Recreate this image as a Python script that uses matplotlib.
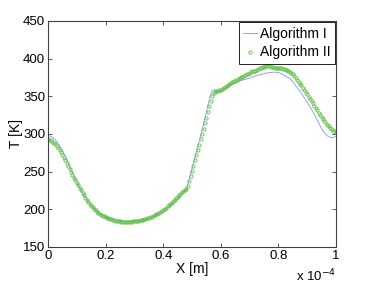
import matplotlib
matplotlib.use('Agg')
import matplotlib.pyplot as plt

plt.rcParams['font.family'] = ['Liberation Sans', 'DejaVu Sans']

# ── Data (x in units of 1e-4 m) ──────────────────────────────────────────────
x_alg1 = [i / 100 for i in range(101)]
T_alg1 = [
    298, 297, 294.5, 290, 284.5, 278, 270.5, 262, 253, 244.5,
    236.5, 229, 222, 216, 210.5, 205.5, 201, 197.5, 194.5, 192,
    190, 188.5, 187, 186, 185.3, 184.8, 184.5, 184.3, 184.3, 184.5,
    184.5, 184.5, 185, 186, 187, 188, 189.5, 191, 193, 195.5,
    198, 200.5, 203.5, 206.5, 210, 214, 218, 222, 226, 240,
    254, 269, 284, 298, 313, 329, 346, 358, 358.5, 356,
    357, 359, 361.5, 364, 366.5, 368, 369.5, 371, 372, 373,
    374, 375.5, 377, 378, 379, 380, 381, 381.5, 382, 382,
    381.5, 380, 378, 375.5, 374, 369.5, 364, 359, 354, 348,
    342, 336, 329.5, 322, 314.5, 307, 301.5, 297.5, 295.5, 295.5,
    296.5,
]

x_alg2 = [i / 200 for i in range(201)]
T_alg2 = [
    293, 292.5, 291.5, 290, 288.5, 286.5, 284, 281.5, 278.5, 275.5,
    272, 268.5, 265, 261, 257, 253, 249.5, 245.5, 242, 238.5,
    235, 232, 228.5, 225, 221.5, 218.5, 215.5, 212.5, 210, 207.5,
    205, 202.5, 200.5, 198.5, 197, 195.5, 194, 192.5, 191.5, 190.5,
    189.5, 188.5, 188, 187, 186.5, 186, 185.5, 185, 184.5, 184.3,
    184, 183.8, 183.6, 183.5, 183.5, 183.5, 183.5, 183.6, 183.8, 184,
    184.2, 184.4, 184.6, 185, 185.4, 185.8, 186.3, 186.8, 187.4, 188,
    188.7, 189.5, 190.3, 191.2, 192.2, 193.2, 194.3, 195.5, 196.8, 198.1,
    199.5, 200.9, 202.4, 204, 205.6, 207.3, 209, 210.8, 212.6, 214.5,
    216.5, 218.5, 220.5, 222.5, 224.3, 225.5, 226.5, 231, 237, 244,
    251, 258, 265, 272, 279, 286, 293, 300, 307, 314,
    321, 329, 337, 344, 350, 354, 356, 356.5, 357, 358,
    359, 360, 361, 362.5, 364, 365.5, 366.5, 368, 369, 370,
    371, 372, 373, 374, 375, 376, 377, 378, 379, 380,
    381, 382, 383, 383.5, 384, 385, 386, 387, 388, 389,
    389.5, 390, 390.3, 390.3, 390, 389.3, 388.5, 388, 387.5, 387.3,
    387.2, 387, 387, 386.7, 386.3, 385.5, 385, 384, 382.5, 381,
    379, 377, 374.5, 372, 369.5, 367, 364.5, 361.5, 358.5, 355.5,
    352.5, 349.5, 346.5, 343.5, 340.5, 337.5, 334.5, 331.5, 328.5, 325.5,
    322.5, 319.5, 317, 314.5, 312, 310, 308, 306, 304.5, 303.5,
    303,
]

x_ticks = [0, 0.2, 0.4, 0.6, 0.8, 1]
x_tick_labels = ['0', '0.2', '0.4', '0.6', '0.8', '1']
y_ticks = [150, 200, 250, 300, 350, 400, 450]

# ── Figure ───────────────────────────────────────────────────────────────────
fig = plt.figure(figsize=(3.71, 2.84), dpi=100)
ax = fig.add_axes([0.1294, 0.1303, 0.7763, 0.7958])

ax.plot(x_alg1, T_alg1, color='#8c8cff', linewidth=0.6, label='Algorithm I')
ax.plot(x_alg2, T_alg2, linestyle='none', marker='o', markersize=2.3,
        markerfacecolor='none', markeredgecolor='#5cc040',
        markeredgewidth=0.6, label='Algorithm II')

ax.set_xlim(0, 1)
ax.set_ylim(150, 450)
ax.set_xticks(x_ticks)
ax.set_xticklabels(x_tick_labels)
ax.set_yticks(y_ticks)
ax.tick_params(direction='in', length=3, width=0.6, color='#404040',
               labelsize=9.5, top=True, right=True, pad=2)
for s in ax.spines.values():
    s.set_color('#404040')
    s.set_linewidth(0.8)

ax.set_xlabel('X [m]', fontsize=10, labelpad=0)
ax.set_ylabel('T [K]', fontsize=10, labelpad=0)
ax.text(1.0, -0.15, r'x 10$^{-4}$', transform=ax.transAxes,
        ha='right', va='baseline', fontsize=9.5)

leg = ax.legend(loc='upper right', fontsize=10, fancybox=False,
                framealpha=1, edgecolor='black', borderpad=0.3,
                handlelength=1.0, handletextpad=0.2, labelspacing=0.35,
                borderaxespad=0.1, numpoints=1)
leg.get_frame().set_linewidth(0.6)

fig.savefig('out.png', dpi=100)
